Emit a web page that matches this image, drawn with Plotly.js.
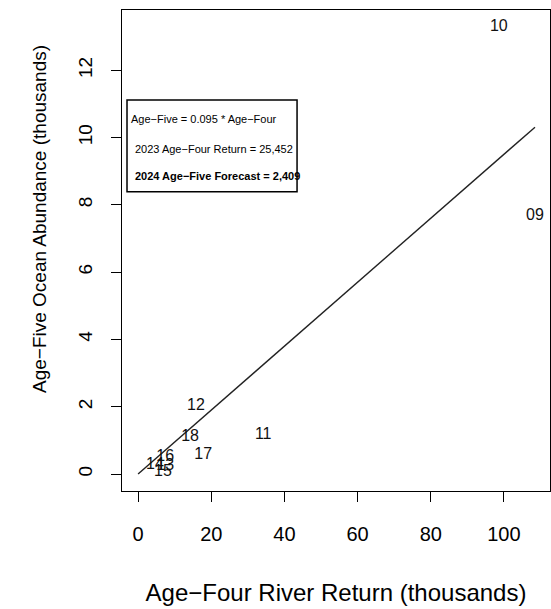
<!DOCTYPE html>
<html>
<head>
<meta charset="utf-8">
<script src="https://cdn.plot.ly/plotly-3.0.1.min.js"></script>
<style>html,body{margin:0;padding:0;background:#fff;}#chart{width:551px;height:609px;}</style>
</head>
<body>
<div id="chart"></div>
<script>
// Data
var yearLabels = ['09','10','11','12','13','14','15','16','17','18'];
var ageFourReturn = [108.5, 98.6, 34.2, 15.8, 7.4, 4.6, 6.8, 7.4, 17.8, 14.2];
var ageFiveAbundance = [7.67, 13.28, 1.16, 2.02, 0.24, 0.27, 0.06, 0.50, 0.56, 1.10];
var slope = 0.095;
var xTicks = [0, 20, 40, 60, 80, 100];
var yTicks = [0, 2, 4, 6, 8, 10, 12];
var xTitle = 'Age\u2212Four River Return (thousands)';
var yTitle = 'Age\u2212Five Ocean Abundance (thousands)';
var legendLines = [
  'Age\u2212Five = 0.095 * Age\u2212Four',
  '2023 Age\u2212Four Return = 25,452',
  '<b>2024 Age\u2212Five Forecast = 2,409</b>'
];

var xMax = Math.max.apply(null, ageFourReturn);
var fitX = [0, xMax];
var fitY = fitX.map(function(v){ return slope * v; });

var FONT = 'Liberation Sans, Arial, sans-serif';

var traces = [
  {
    x: fitX, y: fitY, mode: 'lines', type: 'scatter',
    line: {color: '#222', width: 1.4}, hoverinfo: 'skip'
  },
  {
    x: ageFourReturn, y: ageFiveAbundance, text: yearLabels,
    mode: 'text', type: 'scatter',
    textfont: {family: FONT, size: 16, color: '#111'},
    textposition: 'middle center'
  }
];

var legendY = [0.773, 0.711, 0.655];
var legendX = [0.017, 0.026, 0.026];
var annotations = legendLines.map(function(t, i){
  return {
    xref: 'paper', yref: 'paper', x: legendX[i], y: legendY[i],
    xanchor: 'left', yanchor: 'middle', text: t, showarrow: false,
    font: {family: FONT, size: 11, color: '#000'}
  };
});
// y-axis title (placed as rotated text to match the reference's off-centre position)
annotations.push({
  xref: 'paper', yref: 'paper', x: -0.1916, y: 0.5655,
  xanchor: 'center', yanchor: 'middle', textangle: -90,
  text: yTitle, showarrow: false,
  font: {family: FONT, size: 19, color: '#000'}
});

var layout = {
  width: 551, height: 609,
  margin: {l: 122, r: 1, t: 10, b: 118, pad: 0},
  paper_bgcolor: '#fff', plot_bgcolor: '#fff',
  showlegend: false,
  font: {family: FONT, color: '#000'},
  xaxis: {
    range: [-4.4, 112.6], tickvals: xTicks, ticktext: xTicks.map(String),
    ticks: 'outside', ticklen: 10, tickwidth: 1, tickcolor: '#000',
    showline: true, mirror: true, linecolor: '#000', linewidth: 1,
    showgrid: false, zeroline: false,
    tickfont: {family: FONT, size: 20, color: '#000'},
    ticklabelstandoff: 15,
    title: {text: xTitle, font: {family: FONT, size: 24, color: '#000'}, standoff: 40},
    automargin: false
  },
  yaxis: {
    range: [-0.505, 13.79], tickvals: yTicks, ticktext: yTicks.map(String),
    ticks: 'outside', ticklen: 10, tickwidth: 1, tickcolor: '#000',
    showline: true, mirror: true, linecolor: '#000', linewidth: 1,
    showgrid: false, zeroline: false, tickangle: -90,
    tickfont: {family: FONT, size: 19, color: '#000'},
    ticklabelstandoff: 11,
    automargin: false
  },
  shapes: [{
    type: 'rect', xref: 'paper', yref: 'paper',
    x0: 0.0117, x1: 0.409, y0: 0.622, y1: 0.813,
    line: {color: '#000', width: 1.5}, fillcolor: 'rgba(0,0,0,0)'
  }],
  annotations: annotations
};

Plotly.newPlot('chart', traces, layout, {displayModeBar: false, staticPlot: true});
</script>
</body>
</html>
